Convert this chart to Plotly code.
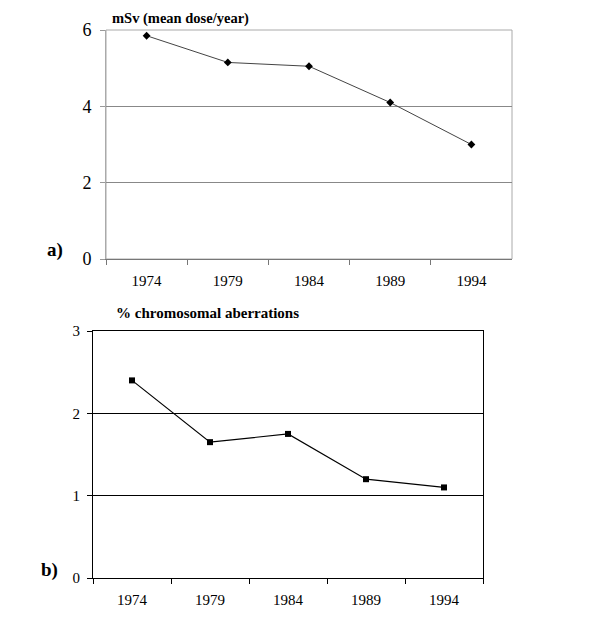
import plotly.graph_objects as go

years = ["1974", "1979", "1984", "1989", "1994"]
dose_msv = [5.85, 5.15, 5.05, 4.1, 3.0]
aberr_pct = [2.4, 1.65, 1.75, 1.2, 1.1]

# page body has an 8px margin, so the figure is offset by 8px in the window
OFF = 8
W, H = 600 - OFF, 638 - OFF
FONT = "Liberation Serif"

def px(x):
    return (x - OFF) / W

def py(y):
    return 1 - (y - OFF) / H

fig = go.Figure()

fig.add_trace(go.Scatter(
    x=years, y=dose_msv, mode="lines+markers", xaxis="x", yaxis="y",
    line=dict(color="#444444", width=1),
    marker=dict(symbol="diamond", size=6, color="black"),
    showlegend=False, hoverinfo="skip"))

fig.add_trace(go.Scatter(
    x=years, y=aberr_pct, mode="lines+markers", xaxis="x2", yaxis="y2",
    line=dict(color="black", width=1.2),
    marker=dict(symbol="square", size=6, color="black"),
    showlegend=False, hoverinfo="skip"))

fig.update_layout(
    width=W, height=H,
    margin=dict(l=0, r=0, t=0, b=0, pad=0),
    paper_bgcolor="white", plot_bgcolor="white",
    font=dict(family=FONT, color="black"),
    xaxis=dict(
        domain=[px(106), px(512)], anchor="y", type="category",
        range=[-0.5, 4.5], tickson="boundaries", automargin=False,
        ticks="outside", ticklen=5, tickcolor="#777777",
        showline=True, linecolor="#777777", linewidth=1,
        showgrid=False, zeroline=False,
        tickfont=dict(size=15, family=FONT), ticklabelstandoff=8,
    ),
    yaxis=dict(
        domain=[py(259), py(30)], anchor="x", automargin=False,
        range=[0, 6], tickvals=[0, 2, 4, 6],
        ticks="outside", ticklen=5, tickcolor="#999999",
        showline=True, linecolor="#aaaaaa", linewidth=1,
        showgrid=True, gridcolor="#888888", gridwidth=1,
        zeroline=False,
        tickfont=dict(size=18, family=FONT), ticklabelstandoff=5,
    ),
    xaxis2=dict(
        domain=[px(93), px(483)], anchor="y2", type="category",
        range=[-0.5, 4.5], tickson="boundaries", automargin=False,
        ticks="outside", ticklen=5, tickcolor="black",
        showline=True, linecolor="black", linewidth=1, mirror=True,
        showgrid=False, zeroline=False,
        tickfont=dict(size=15, family=FONT), ticklabelstandoff=8,
    ),
    yaxis2=dict(
        domain=[py(578), py(331)], anchor="x2", automargin=False,
        range=[0, 3], tickvals=[0, 1, 2, 3],
        ticks="outside", ticklen=5, tickcolor="black",
        showline=True, linecolor="black", linewidth=1, mirror=True,
        showgrid=True, gridcolor="black", gridwidth=1,
        zeroline=False,
        tickfont=dict(size=15, family=FONT), ticklabelstandoff=4,
    ),
    shapes=[
        dict(type="rect", xref="x domain", yref="y domain",
             x0=0, x1=1, y0=0, y1=1,
             line=dict(color="#aaaaaa", width=1), layer="below"),
    ],
    annotations=[
        dict(text="<b>mSv (mean dose/year)</b>", xref="paper", yref="paper",
             x=px(111), y=py(8.5), xanchor="left", yanchor="top",
             borderpad=0, showarrow=False, font=dict(size=14.5, family=FONT)),
        dict(text="<b>% chromosomal aberrations</b>", xref="paper", yref="paper",
             x=px(114), y=py(313), xanchor="left", yanchor="middle",
             showarrow=False, font=dict(size=15, family=FONT)),
        dict(text="<b>a)</b>", xref="paper", yref="paper",
             x=px(45), y=py(250), xanchor="left", yanchor="middle",
             showarrow=False, font=dict(size=19, family=FONT)),
        dict(text="<b>b)</b>", xref="paper", yref="paper",
             x=px(39), y=py(570), xanchor="left", yanchor="middle",
             showarrow=False, font=dict(size=19, family=FONT)),
    ],
)

fig.write_html("out.html")
